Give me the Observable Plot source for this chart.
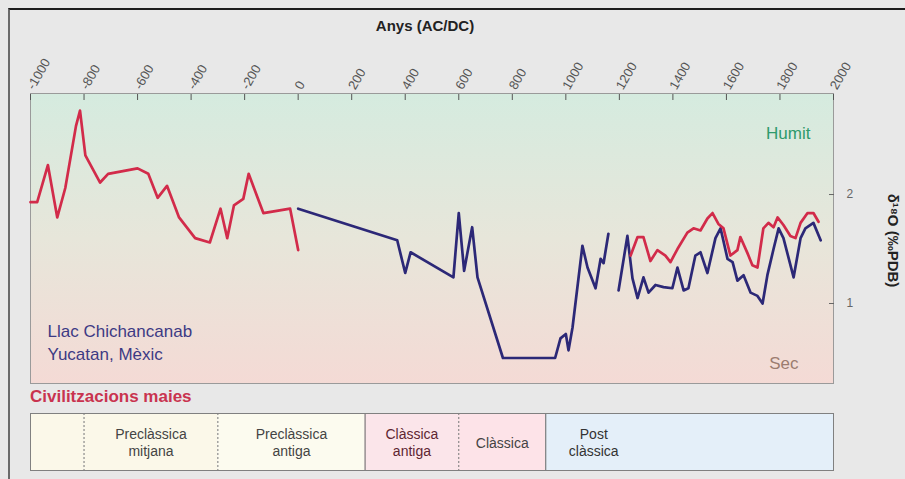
<!DOCTYPE html>
<html>
<head>
<meta charset="utf-8">
<script src="https://cdn.jsdelivr.net/npm/d3@7"></script>
<script src="https://cdn.jsdelivr.net/npm/@observablehq/plot@0.6"></script>
<style>
  html, body { margin: 0; padding: 0; background: #e8e8e8; }
  #chart { position: relative; width: 905px; height: 479px; overflow: hidden;
           font-family: "Liberation Sans", Arial, sans-serif; }
  #border { position: absolute; left: 8px; top: 8px; right: 0; bottom: 0;
            border-top: 2px solid #1c1c1c; border-left: 2px solid #6a6a6a; }
  #main { position: absolute; left: 0; top: 0; }
  #civ { position: absolute; left: 30px; top: 387px; font-size: 17px; font-weight: bold; color: #c9334f; }
  #periods { position: absolute; left: 0; top: 412px; }
</style>
</head>
<body>
<div id="chart">
  <div id="border"></div>
  <div id="main"></div>
  <div id="civ">Civilitzacions maies</div>
  <div id="periods"></div>
</div>
<script>
// Axis ticks
const yearTicks = [-1000, -800, -600, -400, -200, 0, 200, 400, 600, 800, 1000, 1200, 1400, 1600, 1800, 2000];
const valueTicks = [1, 2];

// δ18O record, Lake Chichancanab (red: first core, blue: second core)
const redEarlyYear  = [-1000, -975, -935, -900, -870, -830, -815, -795, -740, -710, -600, -560, -525, -490, -445, -385, -330, -290, -265, -240, -205, -185, -130, -30, 0];
const redEarlyValue = [1.93, 1.93, 2.27, 1.79, 2.06, 2.63, 2.77, 2.36, 2.11, 2.19, 2.24, 2.19, 1.97, 2.08, 1.79, 1.60, 1.56, 1.87, 1.60, 1.90, 1.96, 2.19, 1.83, 1.87, 1.49];

const blueEarlyYear  = [0, 370, 400, 420, 580, 600, 620, 650, 670, 765, 960, 980, 1000, 1010, 1025, 1062, 1081, 1111, 1130, 1141, 1159];
const blueEarlyValue = [1.87, 1.58, 1.28, 1.47, 1.24, 1.83, 1.30, 1.70, 1.24, 0.50, 0.50, 0.68, 0.72, 0.57, 0.78, 1.53, 1.33, 1.14, 1.41, 1.37, 1.64];

const blueLateYear  = [1197, 1230, 1249, 1268, 1290, 1309, 1335, 1365, 1398, 1417, 1440, 1458, 1484, 1503, 1529, 1559, 1578, 1604, 1623, 1641, 1664, 1690, 1716, 1735, 1753, 1776, 1795, 1813, 1851, 1877, 1895, 1925, 1952];
const blueLateValue = [1.12, 1.62, 1.23, 1.05, 1.24, 1.10, 1.17, 1.15, 1.14, 1.33, 1.12, 1.14, 1.44, 1.47, 1.28, 1.60, 1.69, 1.41, 1.38, 1.21, 1.26, 1.10, 1.07, 1.00, 1.26, 1.50, 1.69, 1.60, 1.24, 1.60, 1.69, 1.74, 1.58];

const redLateYear  = [1242, 1268, 1290, 1316, 1342, 1372, 1391, 1417, 1454, 1477, 1503, 1529, 1548, 1570, 1589, 1615, 1641, 1652, 1679, 1697, 1716, 1738, 1757, 1776, 1791, 1813, 1839, 1858, 1877, 1903, 1925, 1944];
const redLateValue = [1.44, 1.61, 1.61, 1.39, 1.49, 1.44, 1.38, 1.50, 1.65, 1.69, 1.67, 1.78, 1.83, 1.73, 1.69, 1.44, 1.49, 1.61, 1.46, 1.35, 1.33, 1.69, 1.74, 1.70, 1.79, 1.72, 1.62, 1.60, 1.74, 1.83, 1.83, 1.75];

// Maya periods
const periodStart = [-1000, -800, -300, 250, 600, 925];
const periodEnd   = [-800, -300, 250, 600, 925, 2000];
const periodLabel = ["", "Preclàssica\nmitjana", "Preclàssica\nantiga", "Clàssica\nantiga", "Clàssica", "Post\nclàssica"];
const dashedBounds = [-800, -300, 600];
const solidBounds  = [250, 925];

const series = (years, values) => years.map((year, i) => ({year, value: values[i]}));
const redEarly  = series(redEarlyYear, redEarlyValue);
const blueEarly = series(blueEarlyYear, blueEarlyValue);
const blueLate  = series(blueLateYear, blueLateValue);
const redLate   = series(redLateYear, redLateValue);

const RED = "#d22b4a";
const BLUE = "#2c2877";
const font = "Liberation Sans, Arial, sans-serif";

// Background gradient (humid at top, dry at bottom)
const gradientDefs = () => {
  const defs = d3.create("svg:defs");
  const g = defs.append("linearGradient").attr("id", "humidityGrad")
    .attr("x1", 0).attr("y1", 0).attr("x2", 0).attr("y2", 1);
  g.append("stop").attr("offset", "0%").attr("stop-color", "#d5ebdf");
  g.append("stop").attr("offset", "50%").attr("stop-color", "#e7e6da");
  g.append("stop").attr("offset", "100%").attr("stop-color", "#f4dad5");
  return defs.node();
};

const lineOpts = (stroke) => ({x: "year", y: "value", stroke, strokeWidth: 2.7, strokeLinejoin: "round"});

const main = Plot.plot({
  width: 905,
  height: 388,
  marginTop: 93,
  marginBottom: 5,
  marginLeft: 30,
  marginRight: 72,
  style: {background: "transparent", fontFamily: font},
  x: {domain: [-1000, 2000]},
  y: {domain: [0.266, 2.927]},
  marks: [
    gradientDefs,
    Plot.frame({fill: "url(#humidityGrad)", stroke: "#9a9a9a"}),
    Plot.axisX({anchor: "top", ticks: yearTicks, tickFormat: d => String(d), tickRotate: -60,
                tickSize: 6, insetTop: 6, tickPadding: 5, fontSize: 13, color: "#555", label: null}),
    Plot.axisY({anchor: "right", ticks: valueTicks, tickFormat: d => String(d), tickSize: 5, insetRight: 5,
                tickPadding: 13, fontSize: 12, color: "#666", label: null}),
    Plot.line(redEarly, lineOpts(RED)),
    Plot.line(blueEarly, lineOpts(BLUE)),
    Plot.line(blueLate, lineOpts(BLUE)),
    Plot.line(redLate, lineOpts(RED)),
    Plot.text(["Anys (AC/DC)"], {frameAnchor: "top", lineAnchor: "middle", dx: -7, dy: -67,
                                 fontSize: 15, fontWeight: "bold", fill: "#222"}),
    Plot.text(["Humit"], {frameAnchor: "top-right", lineAnchor: "middle", dx: -23, dy: 40,
                          fontSize: 17, fill: "#2f9a6c"}),
    Plot.text(["Sec"], {frameAnchor: "bottom-right", lineAnchor: "middle", dx: -35, dy: -20,
                        fontSize: 17, fill: "#9b7c70"}),
    Plot.text(["Llac Chichancanab\nYucatan, Mèxic"], {frameAnchor: "bottom-left", dx: 17, dy: -24,
                        lineHeight: 1.3, fontSize: 17, fill: "#3d3a84"}),
    Plot.text(["δ¹⁸O (‰PDB)"], {frameAnchor: "right", textAnchor: "middle", rotate: 90, dx: 59, dy: 2,
                        fontSize: 15, fontWeight: "bold", fill: "#222"})
  ]
});
document.getElementById("main").append(main);

// Period band below the record, sharing the year scale
const periodTable = periodStart.map((start, i) => ({start, end: periodEnd[i], label: periodLabel[i], idx: i}));
const periodFills = ["#fbf8e9", "#fbf8e9", "#fcfbef", "#fbe5ea", "#fde3e8", "#e4eff9"];
const periodInks  = ["#444", "#444", "#444", "#5e2632", "#444", "#333"];

const band = Plot.plot({
  width: 905,
  height: 59,
  marginTop: 1,
  marginBottom: 1,
  marginLeft: 30,
  marginRight: 72,
  style: {background: "transparent", fontFamily: font},
  x: {domain: [-1000, 2000], axis: null},
  color: {type: "identity"},
  marks: [
    Plot.rect(periodTable, {x1: "start", x2: "end", fill: d => periodFills[d.idx]}),
    Plot.ruleX(dashedBounds, {stroke: "#777", strokeDasharray: "2,2"}),
    Plot.ruleX(solidBounds, {stroke: "#666"}),
    Plot.frame({stroke: "#808080"}),
    Plot.text(periodTable.filter(d => d.idx < 5), {x: d => (d.start + d.end) / 2, text: "label",
              lineHeight: 1.25, fontSize: 14, fill: d => periodInks[d.idx]}),
    Plot.text(periodTable.filter(d => d.idx === 5), {x: "start", text: "label", dx: 48,
              lineHeight: 1.25, fontSize: 14, fill: d => periodInks[d.idx]})
  ]
});
document.getElementById("periods").append(band);
</script>
</body>
</html>
